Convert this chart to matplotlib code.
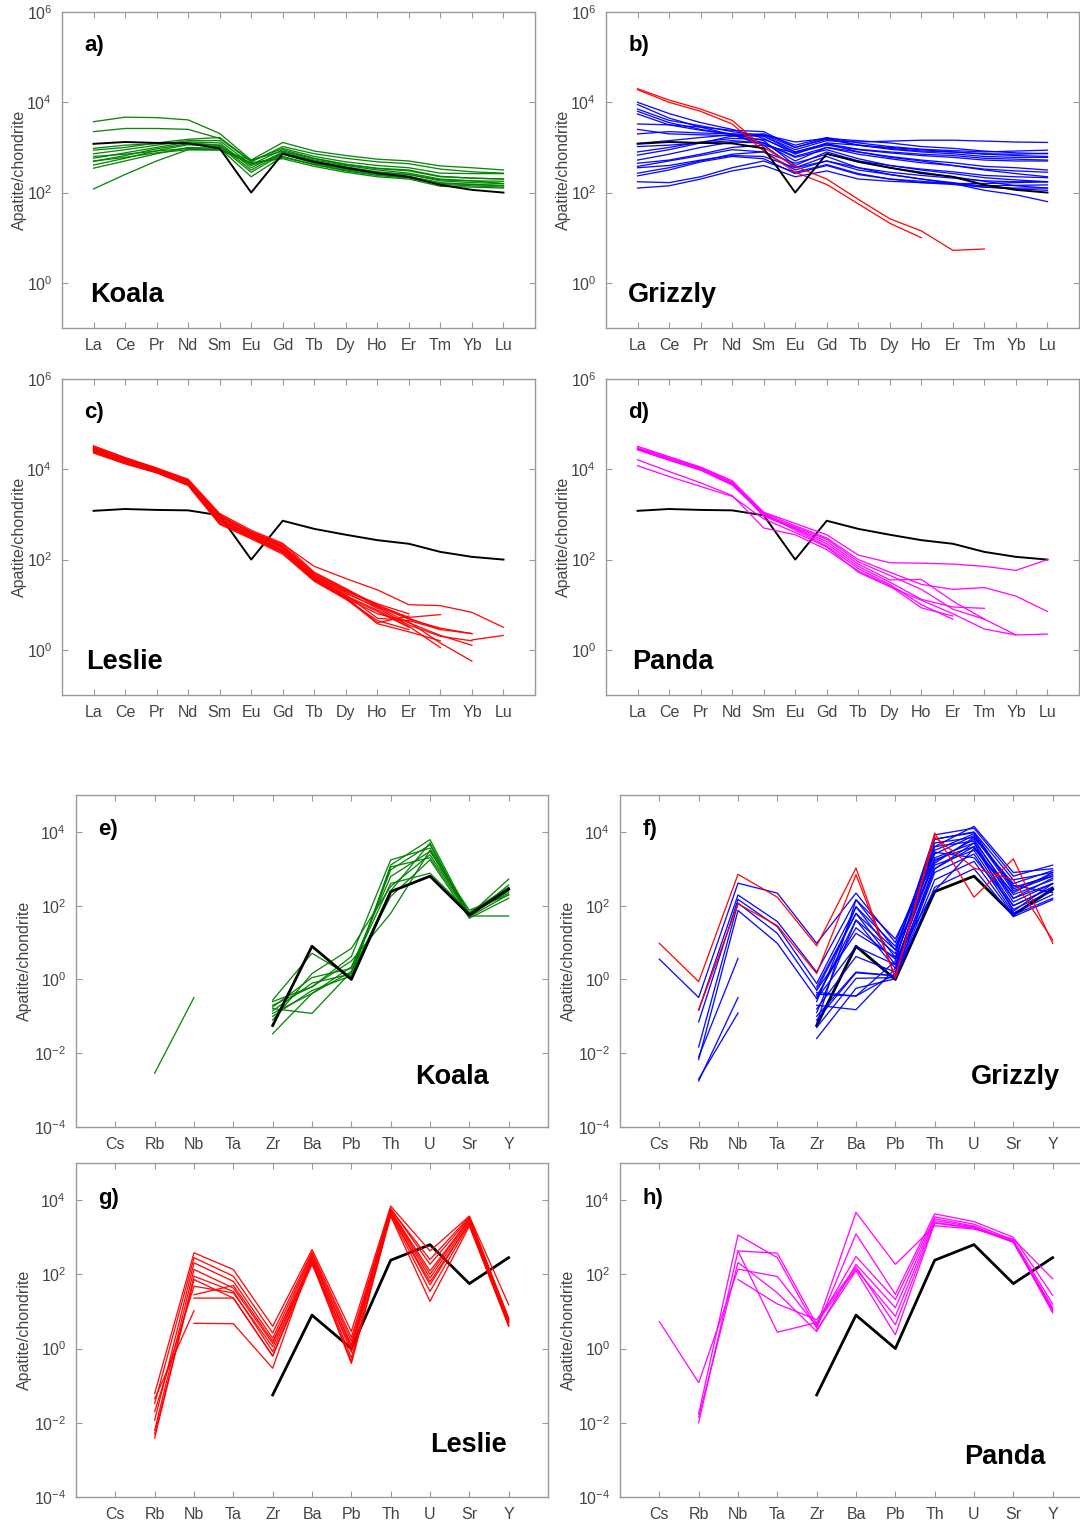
import numpy as np
import matplotlib
matplotlib.use("Agg")
import matplotlib.pyplot as plt
from matplotlib.ticker import FixedLocator, LogFormatterSciNotation, NullLocator

plt.rcParams['font.family'] = ['Liberation Sans', 'DejaVu Sans']
plt.rcParams['mathtext.fontset'] = 'custom'
plt.rcParams['mathtext.rm'] = 'Liberation Sans'
plt.rcParams['mathtext.it'] = 'Liberation Sans:italic'
plt.rcParams['mathtext.bf'] = 'Liberation Sans:bold'
plt.rcParams['axes.unicode_minus'] = False

nan = np.nan

# ---------------------------------------------------------------- elements
ree = ["La", "Ce", "Pr", "Nd", "Sm", "Eu", "Gd", "Tb", "Dy", "Ho", "Er", "Tm", "Yb", "Lu"]
trace = ["Cs", "Rb", "Nb", "Ta", "Zr", "Ba", "Pb", "Th", "U", "Sr", "Y"]

# ---------------------------------------------------------------- reference pattern (log10 of normalised value)
ref_ree = [3.08, 3.12, 3.10, 3.09, 2.98, 2.00, 2.86, 2.68, 2.55, 2.43, 2.35, 2.17, 2.06, 2.00]
ref_trace = [nan, nan, nan, nan, -1.25, 0.90, 0.00, 2.38, 2.80, 1.75, 2.45]

# ---------------------------------------------------------------- REE, log10(apatite/chondrite)
koala_ree = [
    [3.57, 3.67, 3.66, 3.61, 3.31, 2.72, 3.11, 2.92, 2.82, 2.74, 2.70, 2.59, 2.55, 2.50],
    [3.35, 3.42, 3.42, 3.40, 3.20, 2.68, 3.02, 2.86, 2.76, 2.68, 2.64, 2.52, 2.46, 2.43],
    [2.94, 3.00, 3.10, 3.18, 3.22, 2.70, 2.98, 2.80, 2.68, 2.60, 2.55, 2.43, 2.42, 2.42],
    [2.86, 2.95, 3.05, 3.15, 3.15, 2.62, 2.95, 2.76, 2.63, 2.53, 2.48, 2.35, 2.32, 2.30],
    [2.76, 2.88, 3.00, 3.12, 3.10, 2.55, 2.90, 2.72, 2.60, 2.50, 2.43, 2.30, 2.26, 2.25],
    [2.69, 2.82, 2.97, 3.08, 3.05, 2.50, 2.88, 2.70, 2.57, 2.46, 2.40, 2.26, 2.22, 2.20],
    [2.61, 2.76, 2.93, 3.06, 3.02, 2.45, 2.85, 2.66, 2.53, 2.42, 2.36, 2.22, 2.18, 2.15],
    [2.54, 2.70, 2.86, 3.00, 2.98, 2.35, 2.80, 2.62, 2.50, 2.40, 2.33, 2.18, 2.15, 2.12],
    [2.08, 2.40, 2.70, 2.95, 2.95, 2.72, 2.92, 2.75, 2.62, 2.54, 2.50, 2.36, 2.32, 2.30],
    [2.80, 2.85, 2.92, 2.98, 2.96, 2.66, 2.75, 2.58, 2.45, 2.35, 2.30, 2.14, 2.12, 2.10],
    [2.98, 3.05, 3.08, 3.10, 3.05, 2.60, 2.85, 2.65, 2.52, 2.44, 2.40, 2.28, 2.26, 2.20],
    [2.70, 2.78, 2.88, 2.95, 2.94, 2.65, 2.78, 2.62, 2.48, 2.38, 2.32, 2.20, 2.18, 2.16],
]

grizzly_ree_blue = [
    [4.00, 3.75, 3.55, 3.40, 3.20, 2.85, 3.10, 3.05, 3.00, 2.95, 2.90, 2.85, 2.82, 2.80],
    [3.85, 3.60, 3.48, 3.35, 3.25, 2.95, 3.15, 3.12, 3.14, 3.16, 3.16, 3.14, 3.12, 3.11],
    [3.80, 3.55, 3.40, 3.28, 3.10, 2.70, 3.00, 2.90, 2.80, 2.72, 2.66, 2.58, 2.55, 2.50],
    [3.74, 3.50, 3.38, 3.30, 3.15, 2.60, 2.90, 2.70, 2.55, 2.45, 2.35, 2.25, 2.15, 2.10],
    [3.52, 3.50, 3.45, 3.38, 3.35, 3.00, 3.20, 3.05, 2.98, 2.92, 2.90, 2.86, 2.85, 2.87],
    [3.40, 3.30, 3.28, 3.26, 3.25, 2.90, 3.08, 2.90, 2.78, 2.70, 2.60, 2.50, 2.42, 2.35],
    [3.09, 3.15, 3.22, 3.28, 3.30, 3.05, 3.22, 3.10, 3.02, 2.96, 2.93, 2.90, 2.92, 2.94],
    [3.02, 3.05, 3.10, 3.15, 3.10, 2.80, 3.00, 2.85, 2.75, 2.66, 2.60, 2.52, 2.48, 2.45],
    [2.83, 2.95, 3.10, 3.25, 3.28, 3.00, 3.18, 3.05, 2.96, 2.90, 2.86, 2.80, 2.78, 2.78],
    [2.72, 2.85, 3.00, 3.12, 3.10, 2.78, 2.95, 2.75, 2.60, 2.50, 2.42, 2.33, 2.28, 2.24],
    [2.65, 2.72, 2.85, 3.00, 3.05, 2.88, 3.05, 2.95, 2.88, 2.82, 2.78, 2.72, 2.70, 2.70],
    [2.58, 2.70, 2.82, 2.95, 2.90, 2.50, 2.70, 2.50, 2.40, 2.30, 2.22, 2.12, 2.08, 2.05],
    [2.43, 2.55, 2.70, 2.85, 2.90, 2.65, 2.85, 2.70, 2.60, 2.52, 2.46, 2.38, 2.35, 2.33],
    [2.37, 2.50, 2.68, 2.80, 2.75, 2.42, 2.60, 2.40, 2.30, 2.25, 2.20, 2.15, 2.16, 2.17],
    [2.24, 2.22, 2.35, 2.55, 2.70, 2.45, 2.62, 2.42, 2.30, 2.22, 2.18, 2.12, 2.10, 2.10],
    [2.10, 2.15, 2.30, 2.48, 2.60, 2.35, 2.48, 2.30, 2.25, 2.22, 2.20, 2.20, 2.22, 2.24],
    [3.95, 3.65, 3.45, 3.28, 3.05, 2.55, 2.80, 2.55, 2.40, 2.30, 2.20, 2.05, 1.95, 1.80],
    [2.90, 3.00, 3.12, 3.20, 3.18, 2.90, 3.08, 2.96, 2.90, 2.85, 2.82, 2.76, 2.74, 2.72],
    [2.55, 2.60, 2.72, 2.82, 2.80, 2.55, 2.70, 2.55, 2.45, 2.38, 2.32, 2.26, 2.24, 2.24],
    [3.30, 3.35, 3.32, 3.30, 3.28, 3.12, 3.20, 3.15, 3.10, 3.02, 2.98, 2.92, 2.88, 2.86],
]

grizzly_ree_red = [
    [4.30, 4.05, 3.85, 3.60, 3.00, 2.58, 2.30, 1.85, 1.42, 1.15, 0.72, 0.75, nan, nan],
    [4.28, 4.00, 3.80, 3.52, 2.92, 2.45, 2.18, 1.75, 1.32, 1.00, nan, nan, nan, nan],
]

leslie_ree = [
    [4.50, 4.25, 4.02, 3.75, 2.98, 2.62, 2.34, 1.85, 1.58, 1.33, 1.00, 0.98, 0.83, 0.50],
    [4.45, 4.20, 3.98, 3.72, 3.00, 2.58, 2.28, 1.68, 1.30, 1.00, 0.70, 0.45, 0.36, nan],
    [4.42, 4.18, 3.96, 3.70, 2.90, 2.55, 2.22, 1.62, 1.25, 0.95, 0.60, 0.32, 0.10, nan],
    [4.40, 4.15, 3.95, 3.68, 2.85, 2.50, 2.18, 1.58, 1.20, 0.88, 0.52, 0.05, nan, nan],
    [4.38, 4.13, 3.93, 3.65, 2.80, 2.48, 2.15, 1.55, 1.15, 0.80, 0.62, 0.15, -0.25, nan],
    [4.48, 4.22, 4.00, 3.74, 2.95, 2.60, 2.30, 1.65, 1.32, 1.02, 0.80, nan, nan, nan],
    [4.52, 4.26, 4.03, 3.78, 3.02, 2.65, 2.36, 1.72, 1.36, 0.98, 0.72, 0.78, nan, nan],
    [4.44, 4.19, 3.97, 3.71, 2.92, 2.56, 2.25, 1.60, 1.22, 0.70, 0.65, 0.45, nan, nan],
    [4.46, 4.21, 3.99, 3.73, 2.96, 2.59, 2.27, 1.64, 1.28, 0.92, 0.55, 0.30, 0.20, nan],
    [4.36, 4.12, 3.92, 3.64, 2.78, 2.46, 2.12, 1.52, 1.12, 0.65, 0.45, nan, nan, nan],
    [4.41, 4.17, 3.95, 3.69, 2.88, 2.52, 2.20, 1.60, 1.18, 0.85, 0.50, nan, 0.22, 0.32],
    [4.47, 4.23, 4.01, 3.76, 2.97, 2.61, 2.31, 1.70, 1.34, 0.96, 0.68, 0.48, 0.36, nan],
    [4.39, 4.14, 3.94, 3.66, 2.82, 2.49, 2.16, 1.56, 1.17, 0.60, 0.75, nan, nan, nan],
    [4.43, 4.16, 3.96, 3.67, 2.86, 2.54, 2.19, 1.54, 1.14, 0.58, 0.40, 0.20, nan, nan],
]

panda_ree = [
    [4.51, 4.28, 4.05, 3.75, 3.05, 2.80, 2.55, 2.10, 1.93, 1.92, 1.90, 1.85, 1.76, 2.00],
    [4.46, 4.24, 4.02, 3.70, 3.03, 2.75, 2.48, 2.00, 1.72, 1.45, 1.34, 1.38, 1.19, 0.85],
    [4.43, 4.20, 3.98, 3.65, 3.00, 2.70, 2.40, 1.90, 1.55, 1.56, 1.08, 0.68, 0.33, 0.35],
    [4.48, 4.26, 4.03, 3.72, 2.98, 2.72, 2.45, 1.95, 1.65, 1.34, 0.90, 0.68, nan, nan],
    [4.45, 4.22, 4.00, 3.68, 2.96, 2.68, 2.35, 1.85, 1.50, 1.12, 0.95, 0.92, nan, nan],
    [4.44, 4.21, 3.99, 3.67, 3.02, 2.65, 2.30, 1.80, 1.45, 1.00, 0.68, nan, nan, nan],
    [4.21, 3.95, 3.70, 3.42, 2.70, 2.55, 2.22, 1.75, 1.42, 0.93, 0.75, nan, nan, nan],
    [4.08, 3.84, 3.62, 3.40, 2.90, 2.60, 2.28, 1.72, 1.40, 1.10, 0.80, 0.46, 0.33, nan],
]

# ---------------------------------------------------------------- trace elements, log10(apatite/chondrite)
koala_trace = [
    [nan, -2.54, -0.49, nan, -0.70, -0.20, 0.62, 3.24, 3.56, 1.80, 2.43],
    [nan, nan, nan, nan, -0.56, 0.71, 0.07, 3.10, 3.79, 1.75, 2.72],
    [nan, nan, nan, nan, -0.79, -0.92, 0.21, 2.97, 3.65, 1.70, 2.56],
    [nan, nan, nan, nan, -0.92, -0.38, 0.34, 2.79, 3.47, 1.88, 2.29],
    [nan, nan, nan, nan, -1.10, 0.16, 0.84, 2.52, 3.38, 1.78, 2.35],
    [nan, nan, nan, nan, -1.47, -0.38, 0.21, 2.25, 3.24, 1.66, 2.20],
    [nan, nan, nan, nan, -0.60, -0.20, 0.50, 1.79, 3.50, 1.72, 1.72],
    [nan, nan, nan, nan, -0.75, 0.05, 0.30, 2.60, 2.88, 1.82, 2.50],
    [nan, nan, nan, nan, -0.85, -0.10, 0.15, 3.05, 3.30, 1.74, 2.40],
    [nan, nan, nan, nan, -1.00, -0.30, 0.10, 2.40, 3.70, 1.70, 2.30],
]

grizzly_trace_blue = [
    [0.55, -0.49, 2.61, 2.34, 0.98, 2.34, 1.00, 3.60, 4.15, 2.90, 3.00],
    [nan, -0.83, 2.29, 1.57, 0.20, 2.16, 0.80, 3.80, 4.00, 2.70, 2.90],
    [nan, -1.15, 2.17, 1.43, -0.11, 1.97, 0.60, 3.40, 3.90, 2.40, 2.80],
    [nan, -1.83, 2.07, 1.25, -0.29, 1.79, 0.40, 3.20, 3.80, 2.20, 2.60],
    [nan, -2.17, 1.87, 0.98, -0.52, 1.61, 0.30, 3.00, 3.60, 2.00, 2.50],
    [nan, -2.75, -0.49, nan, nan, nan, nan, nan, nan, nan, nan],
    [nan, -2.70, -0.91, nan, nan, nan, nan, nan, nan, nan, nan],
    [nan, -2.10, 0.57, nan, nan, nan, nan, nan, nan, nan, nan],
    [nan, nan, nan, nan, -0.29, 1.25, 0.60, 3.50, 3.95, 2.50, 2.80],
    [nan, nan, nan, nan, -0.52, 0.89, 0.40, 3.30, 3.70, 2.10, 2.60],
    [nan, nan, nan, nan, -0.80, 0.62, 0.20, 3.10, 3.50, 1.90, 2.40],
    [nan, nan, nan, nan, -1.10, 0.18, 0.10, 2.90, 3.40, 1.80, 2.30],
    [nan, nan, nan, nan, -1.30, 0.03, 0.05, 2.70, 3.20, 1.75, 2.20],
    [nan, nan, nan, nan, -1.60, -0.24, 0.02, 2.50, 3.00, 1.70, 2.16],
    [nan, nan, nan, nan, -0.35, -0.45, 0.15, 3.70, 3.85, 2.60, 2.95],
    [nan, nan, nan, nan, -0.70, -0.82, 0.30, 3.60, 3.75, 2.30, 2.70],
    [nan, nan, nan, nan, -0.40, -0.45, 0.50, 3.80, 3.98, 2.45, 2.85],
    [nan, nan, nan, nan, -0.90, 1.61, 0.70, 3.92, 4.10, 2.80, 3.10],
    [nan, nan, nan, nan, -0.60, 1.97, 0.90, 3.45, 3.30, 2.00, 2.50],
    [nan, nan, nan, nan, -1.20, 2.16, 1.10, 3.25, 3.60, 2.20, 2.75],
    [nan, nan, nan, nan, -0.20, 1.79, 0.80, 3.15, 3.85, 2.55, 2.35],
    [nan, nan, nan, nan, -1.00, 0.20, 0.10, 3.00, 3.70, 1.85, 2.60],
    [nan, nan, nan, nan, -0.45, 1.40, 0.55, 2.40, 3.55, 2.35, 2.90],
]

grizzly_trace_red = [
    [0.98, -0.06, 2.85, 2.23, 0.91, 3.02, 0.03, 3.97, 2.23, 3.27, 0.98],
    [nan, -0.83, 2.05, 1.46, 0.16, 2.84, 0.07, 3.86, 3.02, 2.70, 1.07],
]

leslie_trace = [
    [nan, -1.21, 2.58, 2.13, 0.60, 2.67, 0.46, 3.84, 2.63, 3.57, 1.18],
    [nan, -1.48, 2.45, 1.95, 0.42, 2.60, 0.30, 3.78, 2.27, 3.52, 0.82],
    [nan, -1.93, 2.31, 1.81, 0.28, 2.55, 0.20, 3.72, 2.09, 3.48, 0.78],
    [nan, -2.20, 2.13, 1.63, 0.14, 2.50, 0.05, 3.68, 1.90, 3.45, 0.72],
    [nan, -2.41, 1.95, 1.54, -0.08, 2.45, -0.10, 3.64, 1.72, 3.40, 0.65],
    [nan, -2.30, 1.86, 1.36, -0.20, 2.40, -0.25, 3.60, 1.54, 3.35, 0.62],
    [nan, -1.70, 1.68, 1.50, 0.05, 2.35, -0.35, 3.57, 1.27, 3.30, 0.60],
    [nan, nan, 1.45, 1.70, 0.20, 2.30, -0.40, 3.62, 1.80, 3.38, 0.70],
    [nan, nan, 1.36, 1.36, -0.20, 2.27, 0.00, 3.70, 2.00, 3.50, 0.75],
    [nan, -1.35, 1.02, nan, nan, nan, nan, nan, nan, nan, nan],
    [nan, nan, 0.68, 0.67, -0.53, 2.45, 0.10, 3.75, 2.40, 3.55, 0.80],
]

panda_trace = [
    [0.73, -0.92, 2.14, 1.94, 0.60, 3.67, 2.27, 3.31, 3.22, 2.95, 1.88],
    [nan, -1.76, 3.06, 2.45, 0.55, 3.09, 1.46, 3.63, 3.42, 3.00, 1.43],
    [nan, -2.00, 2.63, 2.57, 0.65, 2.48, 1.32, 3.55, 3.35, 2.92, 1.20],
    [nan, -1.85, 2.32, 1.50, 0.46, 2.27, 1.10, 3.50, 3.30, 2.88, 1.10],
    [nan, nan, 2.63, 0.44, 0.70, 2.14, 0.87, 3.45, 3.28, 2.86, 1.00],
    [nan, nan, 1.86, 1.20, 0.78, 2.20, 0.64, 3.40, 3.25, 2.90, 0.96],
    [nan, nan, nan, nan, 0.50, 2.10, 0.37, 3.38, 3.24, 2.87, 1.05],
]

# ---------------------------------------------------------------- styling
GREEN, BLUE, RED, MAGENTA = "#008000", "#0000ff", "#ff0000", "#ff00ff"
SPINE = "#9a9a9a"
TXT = "#444444"

W, H = 1080, 1533
fig = plt.figure(figsize=(W / 100, H / 100), dpi=100)


def px_axes(left, top, right, bottom):
    return fig.add_axes([left / W, 1 - bottom / H, (right - left) / W, (bottom - top) / H])


def style(ax, names, ylim, yticks, label_x):
    n = len(names)
    ax.set_yscale("log")
    ax.set_xlim(0, n + 1)
    ax.set_ylim(*ylim)
    ax.set_xticks(np.arange(1, n + 1))
    ax.set_xticklabels(names)
    ax.yaxis.set_major_locator(FixedLocator(yticks))
    ax.yaxis.set_major_formatter(LogFormatterSciNotation())
    ax.yaxis.set_minor_locator(NullLocator())
    ax.tick_params(axis="both", which="major", direction="in", length=4, width=0.8,
                   color=SPINE, labelcolor=TXT, labelsize=11.5, top=True, right=True, pad=7)
    for s in ax.spines.values():
        s.set_color(SPINE)
        s.set_linewidth(1.0)
    ax.set_ylabel("Apatite/chondrite", fontsize=11.5, color=TXT)
    ax.yaxis.set_label_coords(label_x, 0.5)


def draw(ax, sets, ref, ref_lw, ref_on_top):
    x = np.arange(1, len(ref) + 1)
    zr = 5 if ref_on_top else 1
    ax.plot(x, 10.0 ** np.array(ref), color="black", lw=ref_lw, zorder=zr)
    for rows, color in sets:
        for row in rows:
            ax.plot(x, 10.0 ** np.array(row), color=color, lw=0.95, zorder=3, alpha=0.95)


ree_ylim = (1e-1, 1e6)
ree_ticks = [1e0, 1e2, 1e4, 1e6]
tr_ylim = (1e-4, 1e5)
tr_ticks = [1e-4, 1e-2, 1e0, 1e2, 1e4]

panels = [
    # letter, name, box (l, t, r, b), kind, sets, reference drawn on top
    ("a)", "Koala", (62, 12, 535, 328), "ree", [(koala_ree, GREEN)], True),
    ("b)", "Grizzly", (606, 12, 1079, 328), "ree", [(grizzly_ree_blue, BLUE), (grizzly_ree_red, RED)], True),
    ("c)", "Leslie", (62, 379, 535, 695), "ree", [(leslie_ree, RED)], False),
    ("d)", "Panda", (606, 379, 1079, 695), "ree", [(panda_ree, MAGENTA)], False),
    ("e)", "Koala", (76, 795, 548, 1127), "tr", [(koala_trace, GREEN)], True),
    ("f)", "Grizzly", (620, 795, 1092, 1127), "tr", [(grizzly_trace_blue, BLUE), (grizzly_trace_red, RED)], False),
    ("g)", "Leslie", (76, 1163, 548, 1497), "tr", [(leslie_trace, RED)], False),
    ("h)", "Panda", (620, 1163, 1092, 1497), "tr", [(panda_trace, MAGENTA)], False),
]

name_pos = {
    "a)": (0.059, 0.104, "left"), "b)": (0.047, 0.104, "left"),
    "c)": (0.051, 0.104, "left"), "d)": (0.055, 0.104, "left"),
    "e)": (0.875, 0.151, "right"), "f)": (0.932, 0.151, "right"),
    "g)": (0.913, 0.156, "right"), "h)": (0.902, 0.120, "right"),
}

for letter, name, box, kind, sets, on_top in panels:
    ax = px_axes(*box)
    if kind == "ree":
        style(ax, ree, ree_ylim, ree_ticks, -0.074)
        draw(ax, sets, ref_ree, 1.4, on_top)
    else:
        style(ax, trace, tr_ylim, tr_ticks, -0.093)
        draw(ax, sets, ref_trace, 2.0, on_top)
    ax.text(0.047, 0.895, letter, transform=ax.transAxes, fontsize=16, fontweight="bold",
            ha="left", va="center", color="black")
    nx, ny, ha = name_pos[letter]
    ax.text(nx, ny, name, transform=ax.transAxes, fontsize=19.5, fontweight="bold",
            ha=ha, va="center", color="black")

fig.savefig("out.png", dpi=100)
